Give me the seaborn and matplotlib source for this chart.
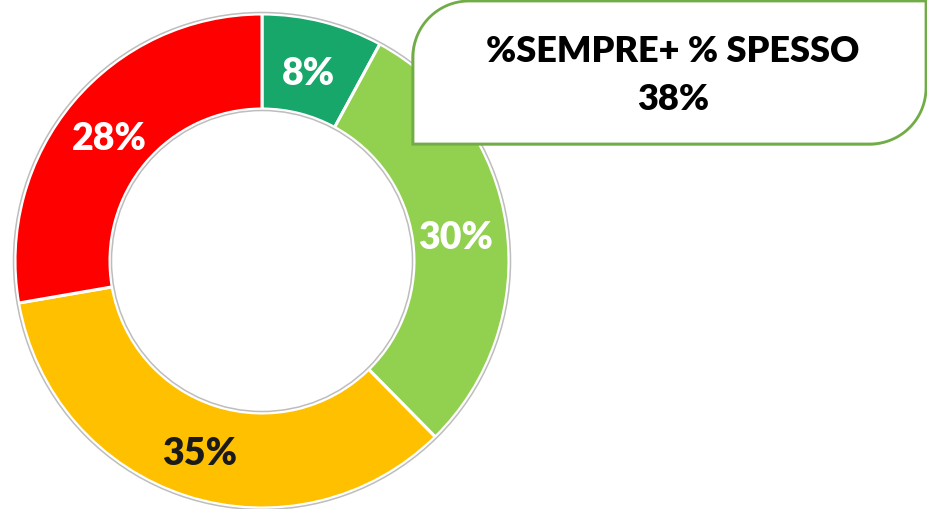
import numpy as np
import matplotlib
matplotlib.use("Agg")
import matplotlib.pyplot as plt
import seaborn as sns
from matplotlib.path import Path
from matplotlib.patches import PathPatch, Circle

# Response shares, clockwise from 12 o'clock
categories = ["Sempre", "Spesso", "Qualche volta", "Mai"]
shares = [8, 30, 35, 28]
slice_colors = ["#17A76A", "#92D050", "#FFC000", "#FF0000"]
label_colors = ["white", "white", "#1A1A1A", "white"]
callout_title = "%SEMPRE+ % SPESSO"
callout_value = shares[0] + shares[1]

sns.set_theme(style="white")
plt.rcParams["font.family"] = ["Lato", "DejaVu Sans"]

W, H = 928, 509
fig = plt.figure(figsize=(W / 100, H / 100), dpi=100)
ax = fig.add_axes([0, 0, 1, 1])

cx, cy = 262, H - 261
r_out = 247
width = 95

wedges, texts, autotexts = ax.pie(
    shares,
    colors=slice_colors,
    startangle=90,
    counterclock=False,
    center=(cx, cy),
    radius=r_out,
    autopct=lambda p: f"{p:.0f}%",
    pctdistance=0.80,
    wedgeprops=dict(width=width, edgecolor="white", linewidth=2.2),
    frame=True,
)
for t, c in zip(autotexts, label_colors):
    x, y = t.get_position()
    t.set_position((x - 2, y - 5))
    t.set_color(c)
    t.set_fontsize(27)
    t.set_fontweight("heavy")

# thin grey rim around the ring
for rr in (r_out + 1.5, r_out - width - 1.5):
    ax.add_patch(Circle((cx, cy), rr, fill=False, edgecolor="#BDBDBD", linewidth=1.1, zorder=3))

ax.set_xlim(0, W)
ax.set_ylim(0, H)
ax.set_aspect("equal")
ax.axis("off")


def callout_path(x0, y0, x1, y1, r):
    """Box with rounded top-left and bottom-right corners."""
    pts = [(x0, y0), (x0, y1 - r)]
    a = np.linspace(np.pi, np.pi / 2, 30)
    pts += list(zip(x0 + r + r * np.cos(a), y1 - r + r * np.sin(a)))
    pts += [(x1, y1), (x1, y0 + r)]
    a = np.linspace(0, -np.pi / 2, 30)
    pts += list(zip(x1 - r + r * np.cos(a), y0 + r + r * np.sin(a)))
    pts += [(x0, y0)]
    codes = [Path.MOVETO] + [Path.LINETO] * (len(pts) - 2) + [Path.CLOSEPOLY]
    return Path(pts, codes)


bx0, by0, bx1, by1 = 413, H - 144, 926, H - 1
shadow = PathPatch(callout_path(bx0 - 2, by0 - 2, bx1 - 2, by1 - 2, 56),
                   facecolor="#9E9E9E", edgecolor="none", alpha=0.55, zorder=4)
ax.add_patch(shadow)
box = PathPatch(callout_path(bx0, by0, bx1, by1, 56),
                facecolor="white", edgecolor="#70AD47", linewidth=2.0, zorder=5)
ax.add_patch(box)

ax.text(673, H - 51, callout_title, ha="center", va="center",
        fontsize=26, fontweight="heavy", color="black", zorder=6)
ax.text(673, H - 99, f"{callout_value}%", ha="center", va="center",
        fontsize=26, fontweight="heavy", color="black", zorder=6)

fig.savefig("out.png", dpi=100)
